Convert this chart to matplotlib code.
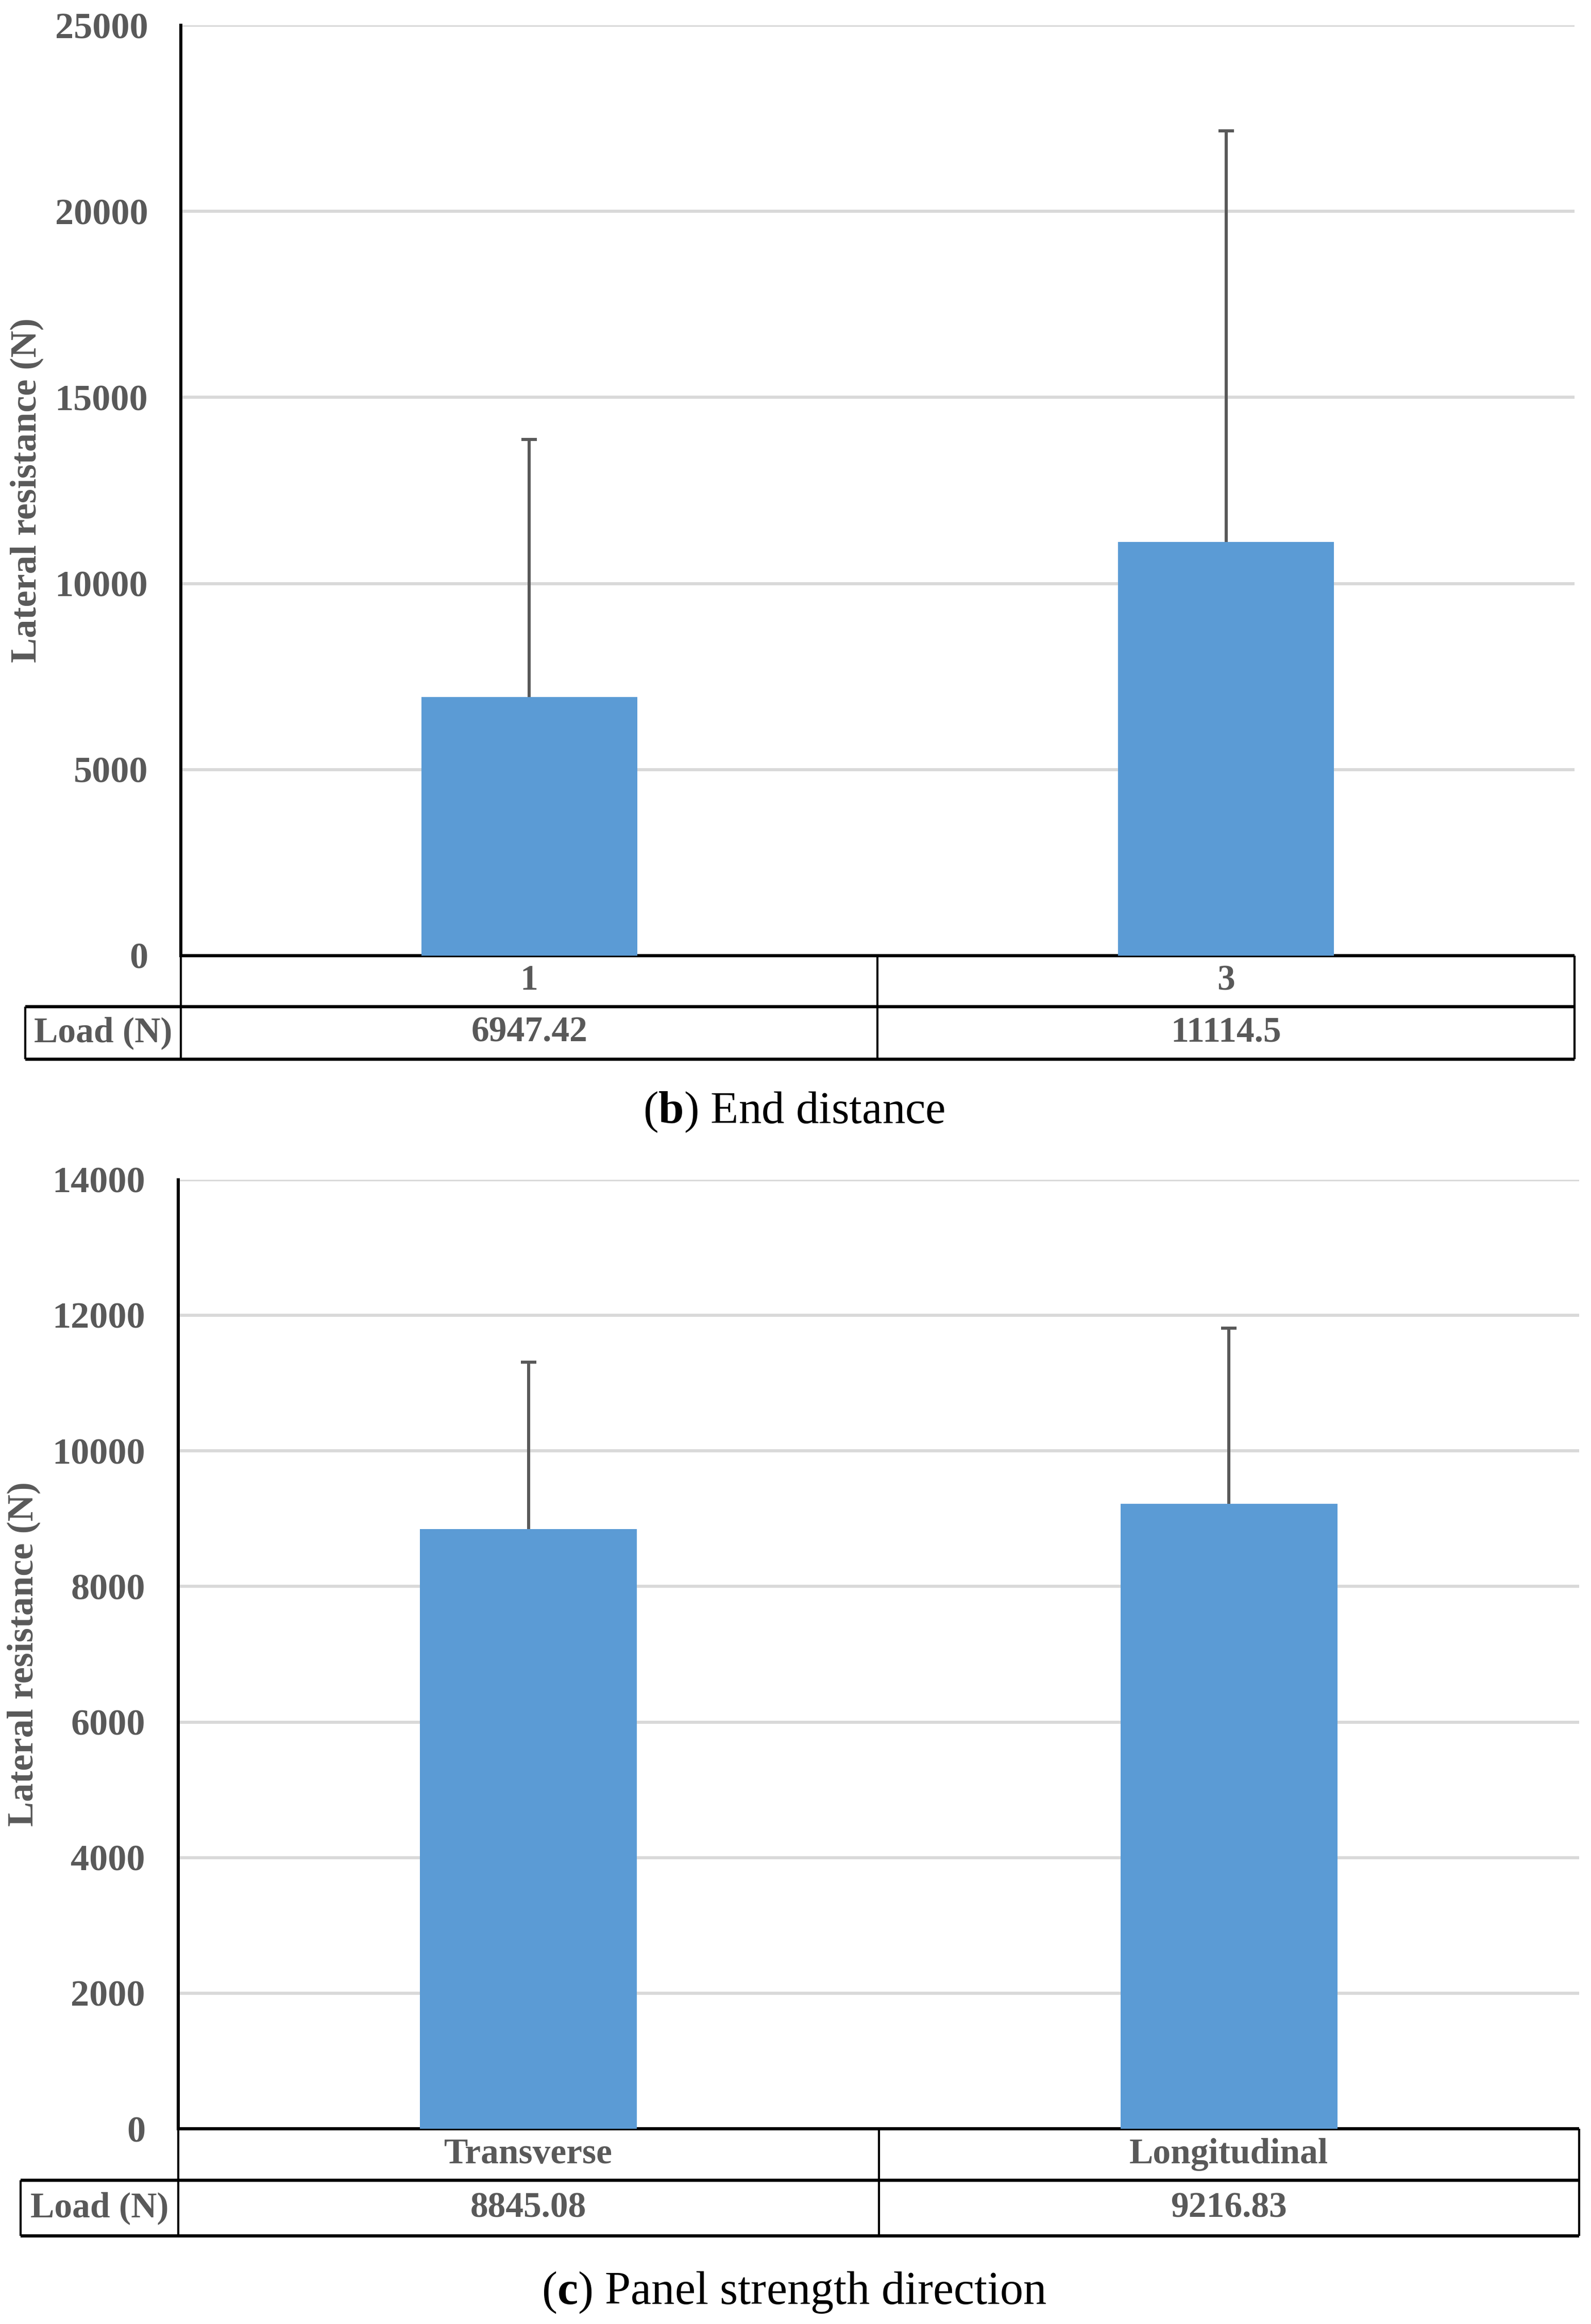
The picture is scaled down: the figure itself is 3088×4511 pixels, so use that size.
import numpy as np
import matplotlib.pyplot as plt

plt.rcParams['font.family'] = ['Liberation Serif', 'DejaVu Serif']
plt.rcParams['mathtext.fontset'] = 'custom'
plt.rcParams['mathtext.rm'] = 'Liberation Serif'
plt.rcParams['mathtext.bf'] = 'Liberation Serif:bold'

# (b) End distance
end_labels = ['1', '3']
end_load = [6947.42, 11114.5]
end_err = [6930, 11050]

# (c) Panel strength direction
dir_labels = ['Transverse', 'Longitudinal']
dir_load = [8845.08, 9216.83]
dir_err = [2465, 2595]

BAR = '#5b9bd5'
GRAY = '#595959'


def draw_panel(fig, rect, cats, vals, errs, ymax, ystep, r1, r2, left_ext, label_x):
    ax = fig.add_axes(rect)
    x = np.arange(len(cats))
    vals = np.array(vals)
    errs = np.array(errs)
    ax.bar(x, vals, width=0.31, color=BAR, zorder=3)
    # upper error only, cap on top
    ax.errorbar(x, vals, yerr=[np.zeros(len(errs)), errs], fmt='none',
                ecolor=GRAY, elinewidth=4.3, capsize=0, zorder=4)
    ax.plot(x, vals + errs, ls='none', marker='_', ms=22, mew=4.3, color=GRAY, zorder=4)
    ax.set_xlim(-0.5, len(cats) - 0.5)
    ax.set_ylim(0, ymax)
    ax.set_yticks(np.arange(0, ymax + 1, ystep))
    ax.yaxis.grid(True, color='#d9d9d9', lw=4.3)
    ax.set_axisbelow(True)
    for s in ['top', 'right', 'bottom']:
        ax.spines[s].set_visible(False)
    ax.spines['left'].set_linewidth(4.3)
    ax.spines['left'].set_color('black')
    ax.set_xticks([])
    ax.tick_params(axis='y', length=0, pad=46, labelsize=52, labelcolor=GRAY)
    for t in ax.get_yticklabels():
        t.set_fontweight('bold')
    ax.set_ylabel('Lateral resistance (N)', fontsize=52, fontweight='bold', color=GRAY,
                  va='center')
    ax.yaxis.set_label_coords(label_x, 0.5)

    # data table under the axis
    ta = ax.transAxes
    tx = ax.get_xaxis_transform()
    bot = -(r1 + r2)
    kw = dict(color='black', clip_on=False, solid_capstyle='butt')
    ax.plot([0, 1], [0, 0], transform=ta, lw=4.5, **kw)
    ax.plot([left_ext, 1], [-r1, -r1], transform=ta, lw=4.5, **kw)
    ax.plot([left_ext, 1], [bot, bot], transform=ta, lw=4.5, **kw)
    ax.plot([0, 0], [0, bot], transform=ta, lw=3, **kw)
    ax.plot([1, 1], [0, bot], transform=ta, lw=3, **kw)
    ax.plot([left_ext, left_ext], [-r1, bot], transform=ta, lw=3, **kw)
    for i in range(len(cats) - 1):
        ax.plot([i + 0.5, i + 0.5], [0, bot], transform=tx, lw=3, **kw)
    tkw = dict(ha='center', va='center', fontsize=50, fontweight='bold', color=GRAY)
    for i, (c, v) in enumerate(zip(cats, vals)):
        ax.text(i, -r1 / 2, c, transform=tx, **tkw)
        ax.text(i, -r1 - r2 / 2, str(v), transform=tx, **tkw)
    ax.text(left_ext / 2, -r1 - r2 / 2, 'Load (N)', transform=ta, **tkw)
    return ax


fig = plt.figure(figsize=(30.88, 45.11), dpi=100)

draw_panel(fig, [0.1137, 0.5888, 0.8759, 0.4003], end_labels, end_load, end_err,
           25000, 5000, 0.0548, 0.0565, -0.1116, -0.1105)
fig.text(0.499, 0.5216, r'($\mathbf{b}$) End distance', ha='center', va='center',
         fontsize=64, color='black')

draw_panel(fig, [0.1120, 0.0840, 0.8806, 0.4084], dir_labels, dir_load, dir_err,
           14000, 2000, 0.0543, 0.0586, -0.1125, -0.110)
fig.text(0.499, 0.0136, r'($\mathbf{c}$) Panel strength direction', ha='center', va='center',
         fontsize=65, color='black')

fig.savefig('out.png', dpi=100, facecolor='white')
